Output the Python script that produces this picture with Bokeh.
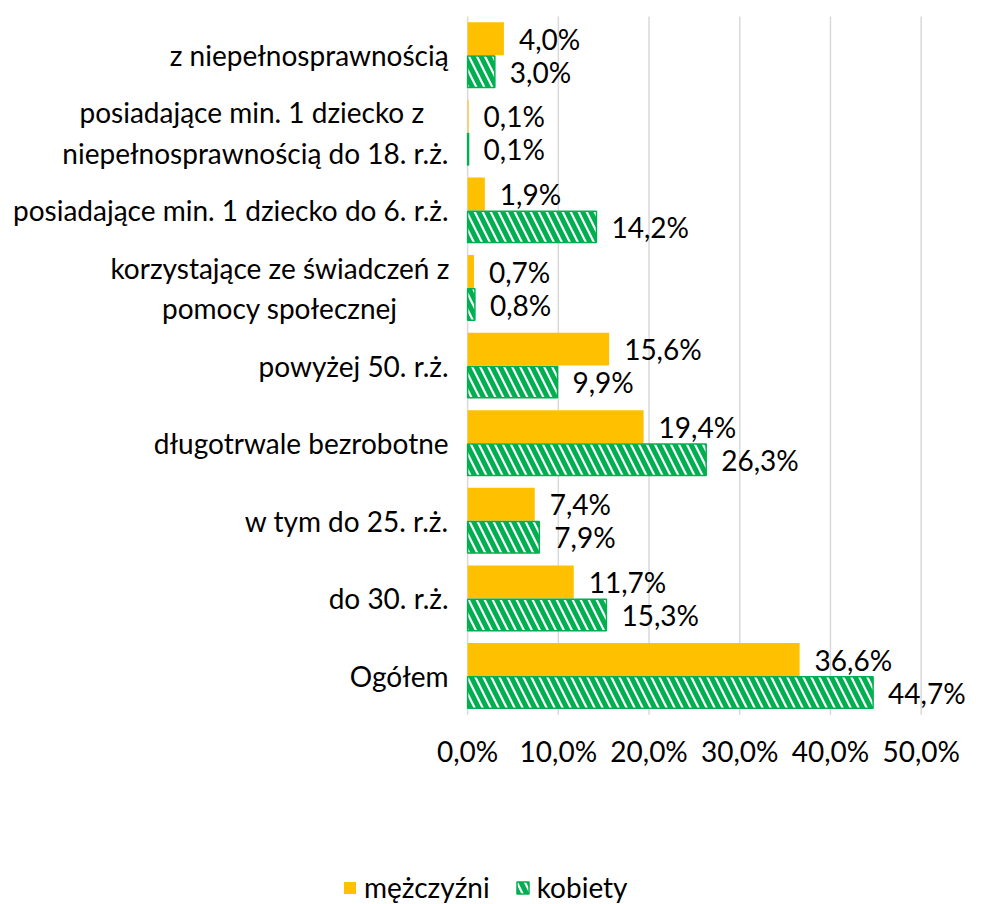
import numpy as np
from bokeh.plotting import figure
from bokeh.models import Range1d, Legend, LegendItem, ColumnDataSource
from bokeh.transform import dodge
from bokeh.core.properties import value
from bokeh.embed import file_html
from bokeh.resources import INLINE

# ---------------- data ----------------
category_labels = [
    "Ogółem",
    "do 30. r.ż.",
    "w tym do 25. r.ż.",
    "długotrwale bezrobotne",
    "powyżej 50. r.ż.",
    "korzystające ze świadczeń z\npomocy społecznej",
    "posiadające min. 1 dziecko do 6. r.ż.",
    "posiadające min. 1 dziecko z \nniepełnosprawnością do 18. r.ż.",
    "z niepełnosprawnością",
]
men = [36.6, 11.7, 7.4, 19.4, 15.6, 0.7, 1.9, 0.1, 4.0]
women = [44.7, 15.3, 7.9, 26.3, 9.9, 0.8, 14.2, 0.1, 3.0]
x_ticks = [0, 10, 20, 30, 40, 50]
series_names = ["mężczyźni", "kobiety"]

# ---------------- style ----------------
FONT = "Lato"
FS = "28px"
ORANGE = "#FFC000"
GREEN = "#00B050"
GRID = "#d9d9d9"
BAR_H = 0.425
# label anchors in x data units (the category labels sit left of the 0 line)
multi_center = {5: -20.7, 7: -23.4}
single_right = -2.1
TICK_LABEL_DY = 36      # px below the plot band
LEGEND_POS = (342, 0)   # px from the bottom-left corner


def pct(v):
    return f"{v:.1f}".replace(".", ",") + "%"


n = len(category_labels)
pos = np.arange(n)

src = ColumnDataSource(dict(
    pos=pos,
    men=men,
    women=women,
    men_lbl=[pct(v) for v in men],
    women_lbl=[pct(v) for v in women],
))

p = figure(width=976, height=904,
           x_range=Range1d(-51.5, 56.1),
           y_range=Range1d(-2.944, 8.705),
           output_backend="svg", toolbar_location=None,
           min_border_left=0, min_border_right=0,
           min_border_top=0, min_border_bottom=0)
p.outline_line_color = None
p.background_fill_color = "white"
p.border_fill_color = "white"
p.axis.visible = False
p.grid.visible = False

band_lo, band_hi = -0.5, n - 0.5

# vertical grid lines over the category band
p.segment(x0=x_ticks, x1=x_ticks, y0=[band_lo] * len(x_ticks), y1=[band_hi] * len(x_ticks),
          line_color=GRID, line_width=1.5)

# x tick labels
p.text(x=x_ticks, y=[band_lo] * len(x_ticks), text=[pct(t) for t in x_ticks],
       y_offset=TICK_LABEL_DY, text_align="center", text_baseline="middle",
       text_font=value(FONT), text_font_size=FS, text_color="black")

r_men = p.hbar(y=dodge("pos", BAR_H / 2), left=0, right="men",
               height=BAR_H, fill_color=ORANGE, line_color=None, source=src)
r_women = p.hbar(y=dodge("pos", -BAR_H / 2), left=0, right="women",
                 height=BAR_H - 0.02, fill_color="white",
                 hatch_pattern="left_diagonal_line", hatch_color=GREEN,
                 hatch_weight=5, hatch_scale=16,
                 line_color=GREEN, line_width=1.5, source=src)

for col, lbl, off in (("men", "men_lbl", BAR_H / 2), ("women", "women_lbl", -BAR_H / 2)):
    p.text(x=col, y=dodge("pos", off), text=lbl, source=src,
           x_offset=15, text_baseline="middle", text_align="left",
           text_font=value(FONT), text_font_size=FS, text_color="black")

single = [i for i in range(n) if i not in multi_center]
multi = [i for i in range(n) if i in multi_center]

src_single = ColumnDataSource(dict(
    x=[single_right] * len(single),
    y=[pos[i] for i in single],
    t=[category_labels[i] for i in single],
))
src_multi = ColumnDataSource(dict(
    x=[multi_center[i] for i in multi],
    y=[pos[i] for i in multi],
    t=[category_labels[i] for i in multi],
))
p.text(x="x", y="y", text="t", source=src_single,
       text_align="right", text_baseline="middle",
       text_font=value(FONT), text_font_size=FS, text_color="black")
p.text(x="x", y="y", text="t", source=src_multi,
       text_align="center", text_baseline="middle",
       text_font=value(FONT), text_font_size=FS, text_color="black",
       text_line_height=1.2)

legend = Legend(items=[LegendItem(label=series_names[0], renderers=[r_men]),
                       LegendItem(label=series_names[1], renderers=[r_women])],
                location=LEGEND_POS, orientation="horizontal",
                glyph_width=15, glyph_height=15, label_standoff=7, spacing=25,
                padding=0, margin=0, border_line_color=None,
                background_fill_alpha=0, label_text_font=FONT,
                label_text_font_size=FS, label_text_color="black")
p.add_layout(legend)

open("out.html", "w").write(file_html(p, INLINE))
